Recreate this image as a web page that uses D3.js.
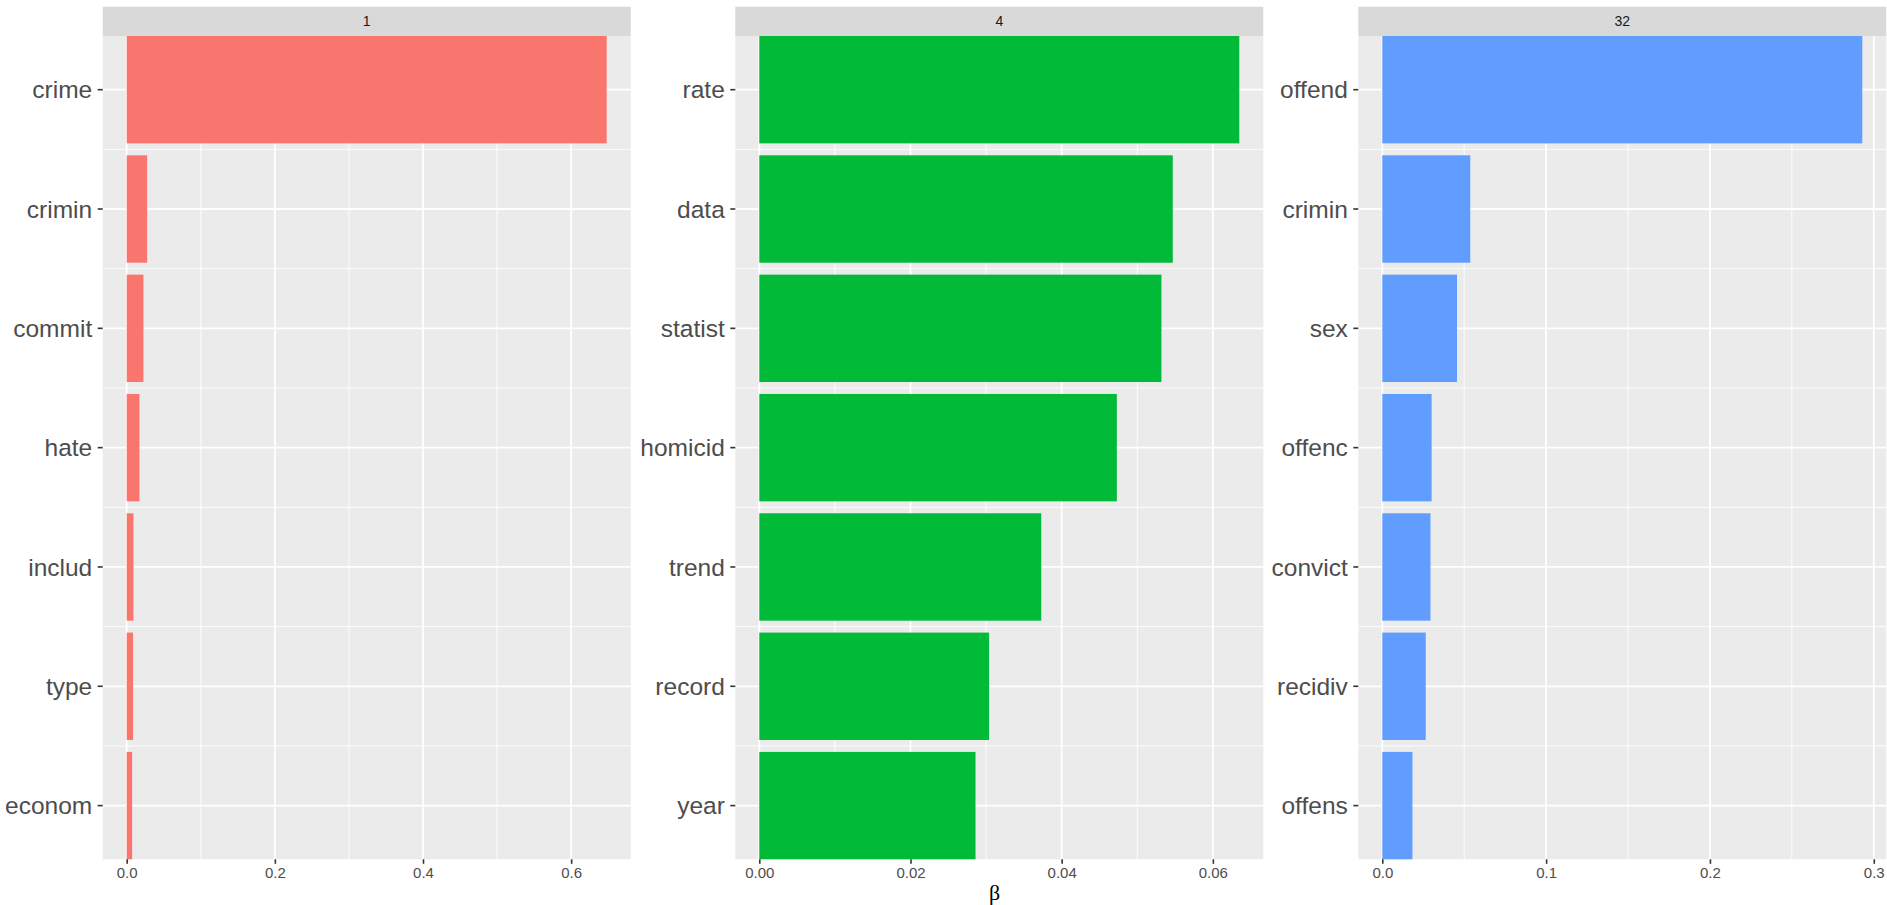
<!DOCTYPE html>
<html>
<head>
<meta charset="utf-8">
<script src="https://cdn.jsdelivr.net/npm/d3@7"></script>
<style>
  html, body { margin: 0; padding: 0; background: #ffffff; }
  svg { display: block; }
</style>
</head>
<body>
<svg id="chart" width="1887" height="905"></svg>
<script>
// ---- data ----
const topics = ["1", "4", "32"];
const terms1 = ["crime", "crimin", "commit", "hate", "includ", "type", "econom"];
const beta1  = [0.648, 0.0276, 0.0226, 0.0172, 0.0091, 0.0086, 0.0073];
const terms4 = ["rate", "data", "statist", "homicid", "trend", "record", "year"];
const beta4  = [0.0635, 0.0547, 0.0532, 0.0473, 0.0373, 0.0304, 0.0286];
const terms32 = ["offend", "crimin", "sex", "offenc", "convict", "recidiv", "offens"];
const beta32  = [0.293, 0.0537, 0.0456, 0.0301, 0.0294, 0.0265, 0.0184];
const ticks1 = [0, 0.2, 0.4, 0.6];
const ticks4 = [0, 0.02, 0.04, 0.06];
const ticks32 = [0, 0.1, 0.2, 0.3];
const tickFmt = ["0.0", "0.00", "0.0"];
const colors = ["#F8766D", "#00BA38", "#619CFF"];
const xTitle = "β";

// ---- layout ----
const svg = d3.select("#chart");
const panelLefts = [102.7, 735.3, 1358.3];
const panelW = 528;
const stripTop = 6.7, panelTop = 36, panelBottom = 859.3;

const panels = [
  { topic: topics[0], terms: terms1, beta: beta1, ticks: ticks1, fmt: tickFmt[0], color: colors[0] },
  { topic: topics[1], terms: terms4, beta: beta4, ticks: ticks4, fmt: tickFmt[1], color: colors[1] },
  { topic: topics[2], terms: terms32, beta: beta32, ticks: ticks32, fmt: tickFmt[2], color: colors[2] }
];

panels.forEach((p, i) => {
  const left = panelLefts[i];
  const maxV = d3.max(p.beta);
  const x = d3.scaleLinear()
    .domain([-0.05 * maxV, 1.05 * maxV])
    .range([left, left + panelW]);
  const y = d3.scaleBand()
    .domain(p.terms)
    .range([panelTop, panelBottom])
    .paddingInner(0.1)
    .paddingOuter(0);

  const g = svg.append("g");

  // strip
  g.append("rect")
    .attr("x", left).attr("y", stripTop)
    .attr("width", panelW).attr("height", panelTop - stripTop)
    .attr("fill", "#D9D9D9");
  g.append("text")
    .attr("x", left + panelW / 2).attr("y", (stripTop + panelTop) / 2)
    .attr("text-anchor", "middle").attr("dominant-baseline", "central")
    .attr("font-family", "Liberation Sans, Arial, sans-serif")
    .attr("font-size", 14).attr("fill", "#1A1A1A")
    .text(p.topic);

  // panel background
  g.append("rect")
    .attr("x", left).attr("y", panelTop)
    .attr("width", panelW).attr("height", panelBottom - panelTop)
    .attr("fill", "#EBEBEB");

  // minor vertical gridlines
  const step = p.ticks[1] - p.ticks[0];
  const minor = p.ticks.map(t => t + step / 2).filter(v => v < x.domain()[1]);
  g.selectAll(".vminor").data(minor).join("line")
    .attr("x1", d => x(d)).attr("x2", d => x(d))
    .attr("y1", panelTop).attr("y2", panelBottom)
    .attr("stroke", "#FFFFFF").attr("stroke-width", 0.9);

  // minor horizontal gridlines (between categories)
  const mids = p.terms.slice(1).map((t, k) => (y(p.terms[k]) + y.bandwidth() / 2 + y(t) + y.bandwidth() / 2) / 2);
  g.selectAll(".hminor").data(mids).join("line")
    .attr("x1", left).attr("x2", left + panelW)
    .attr("y1", d => d).attr("y2", d => d)
    .attr("stroke", "#FFFFFF").attr("stroke-width", 0.9);

  // major gridlines
  g.selectAll(".vmajor").data(p.ticks).join("line")
    .attr("x1", d => x(d)).attr("x2", d => x(d))
    .attr("y1", panelTop).attr("y2", panelBottom)
    .attr("stroke", "#FFFFFF").attr("stroke-width", 1.8);
  g.selectAll(".hmajor").data(p.terms).join("line")
    .attr("x1", left).attr("x2", left + panelW)
    .attr("y1", d => y(d) + y.bandwidth() / 2).attr("y2", d => y(d) + y.bandwidth() / 2)
    .attr("stroke", "#FFFFFF").attr("stroke-width", 1.8);

  // bars
  g.selectAll(".bar").data(p.terms.map((t, k) => ({ t, v: p.beta[k] }))).join("rect")
    .attr("x", x(0)).attr("y", d => y(d.t))
    .attr("width", d => x(d.v) - x(0)).attr("height", y.bandwidth())
    .attr("fill", p.color);

  // x axis
  const xAxis = d3.axisBottom(x).tickValues(p.ticks)
    .tickFormat(d3.format(p.fmt === "0.00" ? ".2f" : ".1f"))
    .tickSize(4.5).tickPadding(4);
  const ax = g.append("g").attr("transform", `translate(0,${panelBottom})`).call(xAxis);
  ax.select(".domain").remove();
  ax.selectAll("line").attr("stroke", "#333333").attr("stroke-width", 1.6);
  ax.selectAll("text")
    .attr("font-family", "Liberation Sans, Arial, sans-serif")
    .attr("font-size", 15).attr("fill", "#4D4D4D");

  // y axis
  const yAxis = d3.axisLeft(y).tickSize(5).tickPadding(5.5);
  const ay = g.append("g").attr("transform", `translate(${left},0)`).call(yAxis);
  ay.select(".domain").remove();
  ay.selectAll("line").attr("stroke", "#333333").attr("stroke-width", 1.6);
  ay.selectAll("text")
    .attr("font-family", "Liberation Sans, Arial, sans-serif")
    .attr("font-size", 24.5).attr("fill", "#4D4D4D")
    .attr("dy", "0.35em");
});

// x axis title
svg.append("text")
  .attr("x", (panelLefts[0] + panelLefts[2] + panelW) / 2)
  .attr("y", 900)
  .attr("text-anchor", "middle")
  .attr("font-family", "Liberation Serif, Times New Roman, serif")
  .attr("font-size", 22).attr("fill", "#000000")
  .text(xTitle);
</script>
</body>
</html>
